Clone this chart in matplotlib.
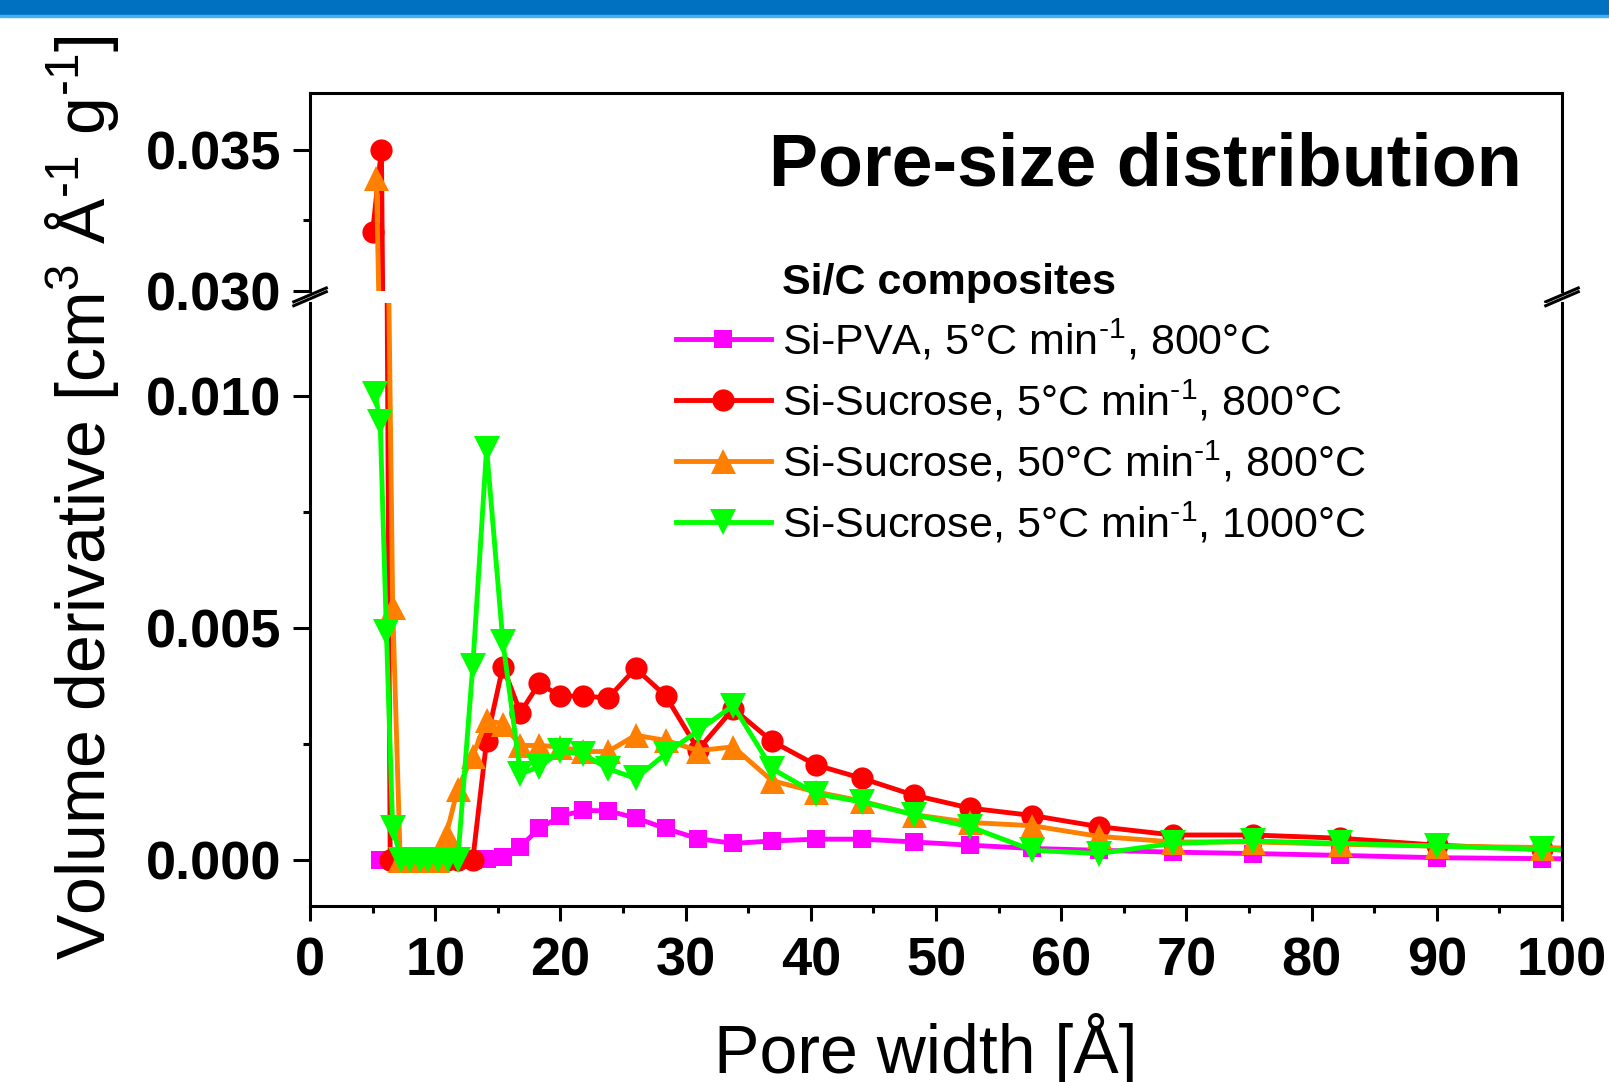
import numpy as np
import matplotlib
matplotlib.use("Agg")
import matplotlib.pyplot as plt
from matplotlib.patches import Rectangle

plt.rcParams['font.family'] = ['Liberation Sans', 'DejaVu Sans']
plt.rcParams['mathtext.fontset'] = 'custom'
plt.rcParams['mathtext.rm'] = 'Liberation Sans'
plt.rcParams['mathtext.it'] = 'Liberation Sans:italic'
plt.rcParams['mathtext.bf'] = 'Liberation Sans:bold'

# pore widths shared by the larger pores
big_x = [13.0, 14.1, 15.4, 16.8, 18.3, 20.0, 21.8, 23.8, 26.0, 28.4, 31.0, 33.8,
         36.9, 40.4, 44.1, 48.2, 52.7, 57.7, 63.0, 68.9, 75.3, 82.3, 90.0, 98.4, 107.5]

# Si-PVA, 5 C/min, 800 C
pva_x = [5.6, 6.4, 7.0, 7.8, 8.5, 9.3, 10.1, 10.9, 11.8] + big_x
pva_y = [0, 0, 0, 0, 0, 0, 0, 0, 0,
         0, 0.00002, 0.00005, 0.00028, 0.00067, 0.00093, 0.00106, 0.00105, 0.0009,
         0.00067, 0.00045, 0.00035, 0.0004, 0.00044, 0.00044, 0.00038, 0.00031,
         0.00024, 0.0002, 0.00016, 0.00013, 0.00009, 0.00004, 0.00002, 0.00001]

# Si-Sucrose, 5 C/min, 800 C
suc5_x = [5.0, 5.7, 6.4, 7.0, 7.8, 8.5, 9.3, 10.1, 10.9, 11.8] + big_x
suc5_y = [0.0321, 0.035, 0, 0, 0, 0, 0, 0, 0, 0,
          0, 0.00256, 0.00416, 0.00317, 0.0038, 0.00352, 0.00353, 0.00348, 0.00412,
          0.00353, 0.00237, 0.00325, 0.00255, 0.00204, 0.00175, 0.00139, 0.00111,
          0.00095, 0.00071, 0.00053, 0.00053, 0.00046, 0.00031, 0.00022, 0.00015]

# Si-Sucrose, 50 C/min, 800 C
suc50_x = [5.3, 6.6, 7.2, 7.8, 8.5, 9.3, 10.1, 10.9, 11.8] + big_x
suc50_y = [0.034, 0.00545, 0, 0, 0, 0, 0, 0.00056, 0.00153,
           0.00224, 0.0030, 0.00293, 0.00246, 0.00246, 0.00243, 0.00233, 0.00233,
           0.00268, 0.00257, 0.00235, 0.00243, 0.0017, 0.00146, 0.00126, 0.00097,
           0.0008, 0.00073, 0.0005, 0.00038, 0.00038, 0.00033, 0.00029, 0.00026, 0.0002]

# Si-Sucrose, 5 C/min, 1000 C
suc1000_x = [5.2, 5.6, 6.1, 6.6, 7.3, 8.0, 8.8, 9.4, 10.2, 11.0, 11.8] + big_x
suc1000_y = [0.01004, 0.00944, 0.0049, 0.00067, 0, 0, 0, 0, 0, 0, 0,
             0.00418, 0.00886, 0.0047, 0.00185, 0.002, 0.00233, 0.00228, 0.00196,
             0.00175, 0.00228, 0.00278, 0.00332, 0.00196, 0.00142, 0.00124, 0.00097,
             0.00071, 0.0002, 0.00013, 0.00035, 0.0004, 0.00035, 0.00029, 0.00022, 0.00018]

labels = ['Si-PVA, 5°C min$^{\u20101}$, 800°C',
          'Si-Sucrose, 5°C min$^{\u20101}$, 800°C',
          'Si-Sucrose, 50°C min$^{\u20101}$, 800°C',
          'Si-Sucrose, 5°C min$^{\u20101}$, 1000°C']
colors = ['#FF00FF', '#FF0000', '#FF8000', '#00FF00']
markers = ['s', 'o', '^', 'v']
msizes = [13.5, 16, 18, 19]

fig = plt.figure(figsize=(16.09, 10.82), dpi=100)
ax_top = fig.add_axes([0.1927, 0.7311, 0.7781, 0.1829])
ax_bot = fig.add_axes([0.1927, 0.1627, 0.7781, 0.5573])

series = [(pva_x, pva_y), (suc5_x, suc5_y), (suc50_x, suc50_y), (suc1000_x, suc1000_y)]
handles = []
for (xs, ys), c, m, ms, lab in zip(series, colors, markers, msizes, labels):
    for ax in (ax_top, ax_bot):
        ln, = ax.plot(xs, ys, color=c, marker=m, markersize=ms, linewidth=3.5,
                      markeredgewidth=0, label=lab)
    handles.append(ln)

ax_top.set_xlim(0, 100)
ax_bot.set_xlim(0, 100)
ax_top.set_ylim(0.030, 0.037)
ax_bot.set_ylim(-0.001, 0.012)

for ax in (ax_top, ax_bot):
    for s in ax.spines.values():
        s.set_linewidth(2.2)
ax_top.spines['bottom'].set_visible(False)
ax_bot.spines['top'].set_visible(False)

ax_top.set_xticks([])
ax_top.set_yticks([0.030, 0.035])
ax_top.set_yticklabels(['0.030', '0.035'])
ax_top.set_yticks([0.0325], minor=True)

ax_bot.set_xticks(np.arange(0, 101, 10))
ax_bot.set_xticks(np.arange(5, 100, 10), minor=True)
ax_bot.set_yticks([0.000, 0.005, 0.010])
ax_bot.set_yticklabels(['0.000', '0.005', '0.010'])
ax_bot.set_yticks([0.0025, 0.0075], minor=True)

for ax in (ax_top, ax_bot):
    ax.tick_params(axis='both', which='major', direction='out', length=12, width=2.2,
                   labelsize=39, pad=9)
    ax.tick_params(axis='both', which='minor', direction='out', length=5, width=2.2)
    ax.tick_params(right=False, top=False, which='both')
    for t in ax.get_xticklabels() + ax.get_yticklabels():
        t.set_fontweight('bold')
ax_bot.tick_params(axis='x', which='major', length=11, pad=11)

# break marks
kw = dict(color='k', linewidth=2.2, clip_on=False)
dx = 0.013
for xp in (0, 1):
    ax_top.plot([xp - dx, xp + dx], [-0.035 - 0.02, 0.035 - 0.02], transform=ax_top.transAxes, **kw)
    ax_bot.plot([xp - dx, xp + dx], [1 - 0.0116 + 0.007, 1 + 0.0116 + 0.007], transform=ax_bot.transAxes, **kw)

fig.text(0.051, 0.54, 'Volume derivative [cm$^3$ Å$^{\u20101}$ g$^{\u20101}$]',
         rotation=90, ha='center', va='center', fontsize=49)
fig.text(0.5755, 0.0083, 'Pore width [Å]', ha='center', va='baseline', fontsize=49)

fig.text(0.946, 0.829, 'Pore-size distribution', ha='right', va='baseline',
         fontsize=53, fontweight='bold')
fig.text(0.486, 0.728, 'Si/C composites', ha='left', va='baseline',
         fontsize=31, fontweight='bold')

fig.legend(handles=handles, loc='upper left', bbox_to_anchor=(0.420, 0.706),
           frameon=False, fontsize=31, handlelength=2.2, handletextpad=0.26,
           labelspacing=0.36, borderpad=0, borderaxespad=0)

# blue band at the top
fig.add_artist(Rectangle((0, 1 - 15 / 1082), 1, 15 / 1082, transform=fig.transFigure,
                         color='#0070C0', zorder=10))
fig.add_artist(Rectangle((0, 1 - 17 / 1082), 1, 2 / 1082, transform=fig.transFigure,
                         color='#45B0F0', zorder=10))

fig.savefig('out.png', dpi=100)
